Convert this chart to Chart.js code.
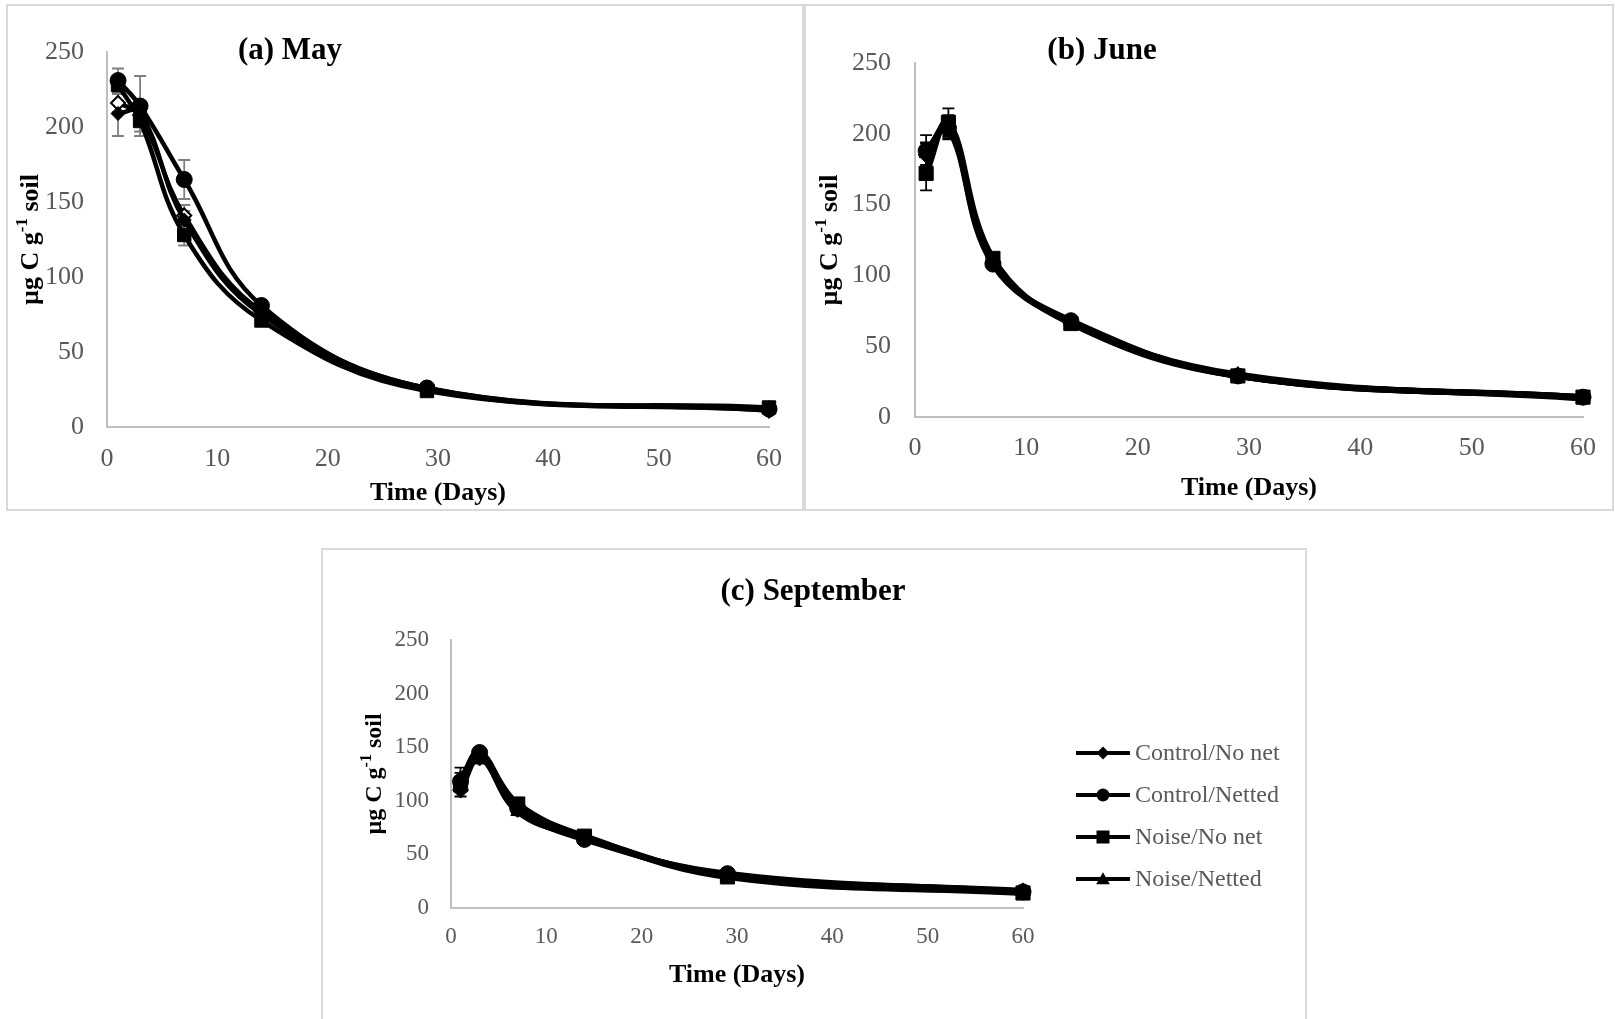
<!DOCTYPE html>
<html>
<head>
<meta charset="utf-8">
<script src="https://cdn.jsdelivr.net/npm/chart.js@4.4.0/dist/chart.umd.min.js"></script>
<style>
  html, body { margin: 0; padding: 0; background: #ffffff; }
  body { position: relative; width: 1615px; height: 1019px; overflow: hidden; }
  .frame { position: absolute; border: 2px solid #d9d9d9; box-sizing: border-box; }
  .panel { position: absolute; }
  .panel canvas { display: block; }
</style>
</head>
<body>
<div class="frame" style="left:6px;top:4px;width:798px;height:507px"></div>
<div class="frame" style="left:804px;top:4px;width:810px;height:507px"></div>
<div class="frame" style="left:321px;top:548px;width:986px;height:500px"></div>

<div class="panel" style="left:9px;top:7px"><canvas id="chartMay" width="792" height="500"></canvas></div>
<div class="panel" style="left:806px;top:7px"><canvas id="chartJune" width="806" height="500"></canvas></div>
<div class="panel" style="left:324px;top:551px"><canvas id="chartSep" width="980" height="468"></canvas></div>

<script>
// Sampling days (x values)
const days = [1, 3, 7, 14, 29, 60];
const seriesNames = ['Control/No net', 'Control/Netted', 'Noise/No net', 'Noise/Netted'];

// Axis ranges and tick steps
const xTickStep = 10, xMax = 60;
const yTickStep = 50, yMax = 250;

// (a) May — µg C g-1 soil
const mayControlNoNet  = [209, 210, 138, 75, 25, 11];
const mayControlNetted = [231, 214, 165, 81, 26, 12];
const mayNoiseNoNet    = [228, 204, 128, 71, 24, 13];
const mayNoiseNetted   = [216, 208, 141, 77, 26, 11];
const mayErrControlNoNet  = [15, 5, 6, 3, 2, 1];
const mayErrControlNetted = [8, 20, 13, 3, 2, 1];
const mayErrNoiseNoNet    = [5, 7, 7, 3, 2, 1];
const mayErrNoiseNetted   = [6, 5, 7, 3, 2, 1];

// (b) June
const junControlNoNet  = [185, 205, 109, 67, 29, 14];
const junControlNetted = [188, 204, 108, 68, 29, 14];
const junNoiseNoNet    = [172, 208, 112, 66, 29, 14];
const junNoiseNetted   = [186, 206, 110, 67, 30, 13];
const junErrControlNoNet  = [8, 8, 3, 2, 1, 1];
const junErrControlNetted = [11, 8, 3, 2, 1, 1];
const junErrNoiseNoNet    = [12, 10, 3, 2, 1, 1];
const junErrNoiseNetted   = [8, 7, 3, 2, 1, 1];

// (c) September
const sepControlNoNet  = [110, 140, 92, 65, 31, 16];
const sepControlNetted = [118, 145, 93, 64, 32, 15];
const sepNoiseNoNet    = [115, 141, 97, 67, 29, 14];
const sepNoiseNetted   = [121, 142, 90, 66, 30, 15];
const sepErrControlNoNet  = [6, 4, 3, 2, 1, 1];
const sepErrControlNetted = [8, 4, 3, 2, 1, 1];
const sepErrNoiseNoNet    = [7, 4, 3, 2, 1, 1];
const sepErrNoiseNetted   = [10, 4, 3, 2, 1, 1];

const SERIF = "'Liberation Serif', 'Times New Roman', serif";

function toPoints(values) {
  return days.map((d, i) => ({ x: d, y: values[i] }));
}

// Vertical error bars with caps, drawn through the chart scales
const errorBarPlugin = {
  id: 'errorBars',
  beforeDatasetsDraw(chart, args, opts) {
    const ctx = chart.ctx;
    const xs = chart.scales.x, ys = chart.scales.y;
    ctx.save();
    ctx.strokeStyle = opts.color || '#7f7f7f';
    ctx.lineWidth = opts.width || 1.6;
    const cap = opts.cap || 6;
    chart.data.datasets.forEach(ds => {
      if (!ds.errors) return;
      ds.data.forEach((p, i) => {
        const e = ds.errors[i];
        if (!e) return;
        const x = xs.getPixelForValue(p.x);
        const y1 = ys.getPixelForValue(p.y + e);
        const y2 = ys.getPixelForValue(p.y - e);
        ctx.beginPath();
        ctx.moveTo(x, y1); ctx.lineTo(x, y2);
        ctx.moveTo(x - cap, y1); ctx.lineTo(x + cap, y1);
        ctx.moveTo(x - cap, y2); ctx.lineTo(x + cap, y2);
        ctx.stroke();
      });
    });
    ctx.restore();
  }
};

// Titles and axis titles (y title carries a superscript)
const panelTextPlugin = {
  id: 'panelText',
  afterDraw(chart, args, o) {
    const ctx = chart.ctx;
    const a = chart.chartArea;
    ctx.save();
    ctx.fillStyle = '#000000';
    ctx.textAlign = 'center';
    ctx.textBaseline = 'middle';
    // panel title
    ctx.font = `bold ${o.titleSize}px ${SERIF}`;
    ctx.fillText(o.title, o.titleX, o.titleY);
    // x axis title
    ctx.font = `bold ${o.axisSize}px ${SERIF}`;
    ctx.fillText('Time (Days)', (a.left + a.right) / 2, a.bottom + o.xTitleOffset);
    // y axis title, rotated
    const s = o.yTitleSize, sup = Math.round(s * 0.65);
    const p1 = 'µg C g', p2 = '-1', p3 = ' soil';
    ctx.translate(o.yTitleX, (a.top + a.bottom) / 2);
    ctx.rotate(-Math.PI / 2);
    ctx.textAlign = 'left';
    ctx.font = `bold ${s}px ${SERIF}`;
    const w1 = ctx.measureText(p1).width, w3 = ctx.measureText(p3).width;
    ctx.font = `bold ${sup}px ${SERIF}`;
    const w2 = ctx.measureText(p2).width;
    let x = -(w1 + w2 + w3) / 2;
    ctx.font = `bold ${s}px ${SERIF}`;
    ctx.fillText(p1, x, 0); x += w1;
    ctx.font = `bold ${sup}px ${SERIF}`;
    ctx.fillText(p2, x, -s * 0.32); x += w2;
    ctx.font = `bold ${s}px ${SERIF}`;
    ctx.fillText(p3, x, 0);
    ctx.restore();
  }
};

// Series legend with line-through markers
const seriesLegendPlugin = {
  id: 'seriesLegend',
  afterDraw(chart, args, o) {
    if (!o.show) return;
    const ctx = chart.ctx;
    ctx.save();
    chart.data.datasets.forEach((ds, i) => {
      const y = o.y + i * o.step;
      ctx.strokeStyle = '#000000';
      ctx.lineWidth = 4;
      ctx.beginPath();
      ctx.moveTo(o.x, y); ctx.lineTo(o.x + o.lineLen, y);
      ctx.stroke();
      const cx = o.x + o.lineLen / 2;
      ctx.fillStyle = '#000000';
      ctx.beginPath();
      const r = o.marker;
      switch (ds.legendShape) {
        case 'rectRot':
          ctx.moveTo(cx, y - r); ctx.lineTo(cx + r, y); ctx.lineTo(cx, y + r); ctx.lineTo(cx - r, y);
          break;
        case 'circle':
          ctx.arc(cx, y, r, 0, Math.PI * 2);
          break;
        case 'rect':
          ctx.rect(cx - r, y - r, 2 * r, 2 * r);
          break;
        case 'triangle':
          ctx.moveTo(cx, y - r * 1.05); ctx.lineTo(cx + r * 1.05, y + r * 0.8); ctx.lineTo(cx - r * 1.05, y + r * 0.8);
          break;
      }
      ctx.closePath();
      ctx.fill();
      ctx.fillStyle = '#595959';
      ctx.font = `${o.fontSize}px ${SERIF}`;
      ctx.textAlign = 'left';
      ctx.textBaseline = 'middle';
      ctx.fillText(seriesNames[i], o.x + o.lineLen + 5, y + 1);
    });
    ctx.restore();
  }
};

function buildDatasets(values, errors, styles, lineWidth) {
  return values.map((v, i) => ({
    label: seriesNames[i],
    data: toPoints(v),
    errors: errors[i],
    legendShape: ['rectRot', 'circle', 'rect', 'triangle'][i],
    borderColor: '#000000',
    borderWidth: lineWidth,
    tension: 0.4,
    fill: false,
    clip: false,
    pointStyle: styles[i].shape,
    pointRadius: styles[i].r,
    pointBackgroundColor: styles[i].fill,
    pointBorderColor: '#000000',
    pointBorderWidth: styles[i].bw
  }));
}

function makeChart(id, geo, datasets, text, tickSize, tickPad, xPad, errOpts, legend) {
  const ctx = document.getElementById(id);
  return new Chart(ctx, {
    type: 'line',
    data: { datasets },
    options: {
      responsive: false,
      animation: false,
      events: [],
      layout: { padding: { left: 0, top: geo.top, right: geo.w - geo.right, bottom: 0 } },
      scales: {
        x: {
          type: 'linear', min: 0, max: xMax,
          afterFit: s => { s.height = geo.h - geo.bottom; },
          grid: { display: true, drawOnChartArea: false, drawTicks: false, color: 'rgba(0,0,0,0)' },
          border: { display: true, color: '#bfbfbf', width: 2 },
          ticks: { stepSize: xTickStep, padding: xPad, color: '#595959',
                   font: { family: SERIF, size: tickSize }, maxRotation: 0 }
        },
        y: {
          type: 'linear', min: 0, max: yMax,
          afterFit: s => { s.width = geo.left; },
          grid: { display: true, drawOnChartArea: false, drawTicks: false, color: 'rgba(0,0,0,0)' },
          border: { display: true, color: '#bfbfbf', width: 2 },
          ticks: { stepSize: yTickStep, padding: tickPad, color: '#595959',
                   font: { family: SERIF, size: tickSize } }
        }
      },
      plugins: {
        legend: { display: false },
        tooltip: { enabled: false },
        errorBars: errOpts,
        panelText: text,
        seriesLegend: legend || { show: false }
      }
    },
    plugins: [errorBarPlugin, panelTextPlugin, seriesLegendPlugin]
  });
}

// (a) May
makeChart('chartMay',
  { w: 792, h: 500, left: 98, right: 760, top: 45, bottom: 420 },
  buildDatasets(
    [mayControlNoNet, mayControlNetted, mayNoiseNoNet, mayNoiseNetted],
    [mayErrControlNoNet, mayErrControlNetted, mayErrNoiseNoNet, mayErrNoiseNetted],
    [
      { shape: 'rectRot', r: 7, fill: '#000000', bw: 1 },
      { shape: 'circle', r: 8, fill: '#000000', bw: 1 },
      { shape: 'rect', r: 9.5, fill: '#000000', bw: 1 },
      { shape: 'rectRot', r: 7, fill: '#ffffff', bw: 2 }
    ], 4.5),
  { title: '(a) May', titleX: 281, titleY: 44, titleSize: 31, axisSize: 26, xTitleOffset: 66, yTitleX: 22, yTitleSize: 26 },
  26, 23, 17, { color: '#7f7f7f', width: 1.8, cap: 6 });

// (b) June
makeChart('chartJune',
  { w: 806, h: 500, left: 109, right: 781, top: 56, bottom: 410 },
  buildDatasets(
    [junControlNoNet, junControlNetted, junNoiseNoNet, junNoiseNetted],
    [junErrControlNoNet, junErrControlNetted, junErrNoiseNoNet, junErrNoiseNetted],
    [
      { shape: 'rectRot', r: 8, fill: '#000000', bw: 1 },
      { shape: 'circle', r: 8, fill: '#000000', bw: 1 },
      { shape: 'rect', r: 10, fill: '#000000', bw: 1 },
      { shape: 'triangle', r: 8, fill: '#000000', bw: 1 }
    ], 6),
  { title: '(b) June', titleX: 296, titleY: 44, titleSize: 31, axisSize: 26, xTitleOffset: 71, yTitleX: 24, yTitleSize: 26 },
  26, 24, 16, { color: '#000000', width: 1.8, cap: 6 });

// (c) September
makeChart('chartSep',
  { w: 980, h: 468, left: 127, right: 699, top: 89, bottom: 357 },
  buildDatasets(
    [sepControlNoNet, sepControlNetted, sepNoiseNoNet, sepNoiseNetted],
    [sepErrControlNoNet, sepErrControlNetted, sepErrNoiseNoNet, sepErrNoiseNetted],
    [
      { shape: 'rectRot', r: 8, fill: '#000000', bw: 1 },
      { shape: 'circle', r: 8, fill: '#000000', bw: 1 },
      { shape: 'rect', r: 10, fill: '#000000', bw: 1 },
      { shape: 'triangle', r: 8, fill: '#000000', bw: 1 }
    ], 6),
  { title: '(c) September', titleX: 489, titleY: 41, titleSize: 31, axisSize: 26, xTitleOffset: 67, yTitleX: 51, yTitleSize: 24 },
  23, 22, 15, { color: '#000000', width: 1.8, cap: 6 },
  { show: true, x: 752, y: 202, step: 42, lineLen: 54, marker: 6.5, fontSize: 24 });
</script>
</body>
</html>
